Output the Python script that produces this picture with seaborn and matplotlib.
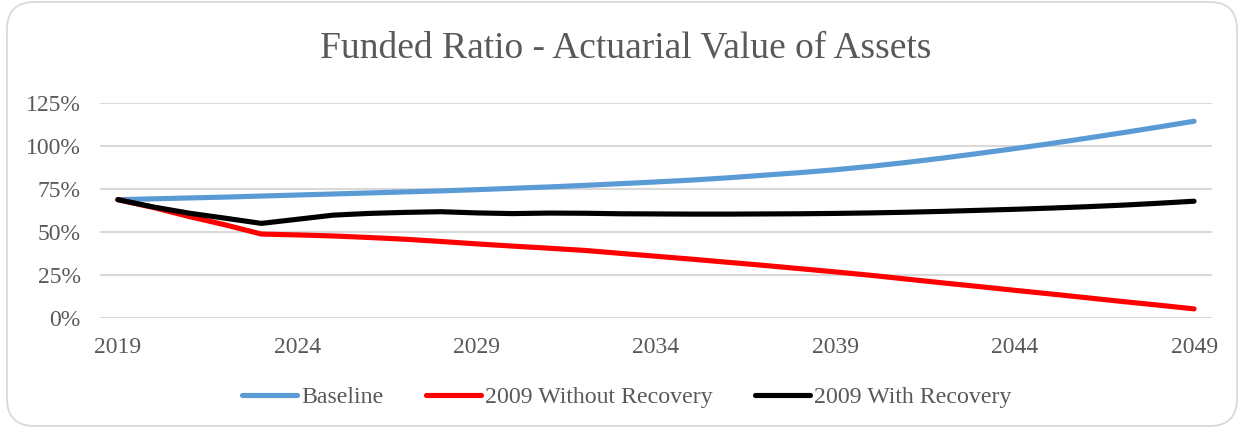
import numpy as np
import pandas as pd
import seaborn as sns
import matplotlib.pyplot as plt
from matplotlib.patches import FancyBboxPatch

# values (funded ratio, %)
years = list(range(2019, 2050))

baseline = [68.8, 69.3, 69.8, 70.3, 70.9, 71.5, 72.1, 72.7, 73.3, 73.9,
            74.6, 75.4, 76.2, 77.1, 78.1, 79.1, 80.2, 81.5, 83.0, 84.5,
            86.2, 88.2, 90.5, 93.0, 95.7, 98.5, 101.4, 104.5, 107.7, 111.0,
            114.4]

without_recovery = [68.8, 64.2, 58.9, 54.1, 48.8, 48.3, 47.7, 46.8, 45.8, 44.5,
                    43.1, 41.8, 40.6, 39.3, 37.6, 35.9, 34.2, 32.4, 30.6, 28.7,
                    26.8, 24.8, 22.6, 20.4, 18.3, 16.1, 14.0, 11.8, 9.6, 7.5,
                    5.3]

with_recovery = [68.8, 64.5, 60.9, 58.0, 55.0, 57.4, 59.8, 60.8, 61.4, 61.8,
                 61.1, 60.7, 61.0, 60.9, 60.6, 60.5, 60.4, 60.4, 60.5, 60.6,
                 60.8, 61.1, 61.5, 62.0, 62.6, 63.2, 63.9, 64.7, 65.6, 66.7,
                 67.9]

series_names = ["Baseline", "2009 Without Recovery", "2009 With Recovery"]
colors = ["#5B9BD5", "#FF0000", "#000000"]
xtick_years = [2019, 2024, 2029, 2034, 2039, 2044, 2049]
ytick_vals = [0, 25, 50, 75, 100, 125]

df = pd.DataFrame({
    "Year": years * 3,
    "Ratio": baseline + without_recovery + with_recovery,
    "Scenario": np.repeat(series_names, len(years)),
})

sns.set_theme(style="white")
plt.rcParams["font.family"] = ["Liberation Serif", "DejaVu Serif"]
text_grey = "#595959"

fig = plt.figure(figsize=(12.44, 4.32), dpi=100)
fig.patch.set_facecolor("white")

# rounded chart border
border = FancyBboxPatch((7 / 1244, 6 / 432), 1230 / 1244, 424 / 432,
                        boxstyle="round,pad=0,rounding_size=0.022",
                        transform=fig.transFigure, facecolor="none",
                        edgecolor="#d9d9d9", linewidth=1.3, mutation_aspect=1244 / 432)
fig.patches.append(border)

ax = fig.add_axes([100 / 1244, 1 - 318 / 432, 1112 / 1244, 215 / 432])

sns.lineplot(data=df, x="Year", y="Ratio", hue="Scenario",
             hue_order=series_names, palette=colors, linewidth=3.7,
             solid_capstyle="round", solid_joinstyle="round",
             legend=False, ax=ax)

ax.set_xlim(2018.5, 2049.5)
ax.set_ylim(0, 125)
ax.set_xticks(xtick_years)
ax.set_xticklabels([str(y) for y in xtick_years])
ax.set_yticks(ytick_vals)
ax.set_yticklabels([f"{v}%" for v in ytick_vals])
ax.set_xlabel("")
ax.set_ylabel("")

ax.grid(axis="y", color="#d9d9d9", linewidth=1.5)
ax.grid(axis="x", visible=False)
ax.set_axisbelow(True)
for s in ax.spines.values():
    s.set_visible(False)
ax.tick_params(axis="y", length=0, pad=14, labelsize=17, labelcolor=text_grey)
ax.tick_params(axis="x", length=0, pad=14, labelsize=17, labelcolor=text_grey)

fig.text(0.503, 1 - 48 / 432, "Funded Ratio - Actuarial Value of Assets",
         ha="center", va="center", fontsize=27, color=text_grey)

handles = [plt.Line2D([], [], color=c, linewidth=3.7, solid_capstyle="round")
           for c in colors]
leg = fig.legend(handles, series_names, loc="center", ncol=3,
                 bbox_to_anchor=(0.504, 1 - 397 / 432), frameon=False,
                 fontsize=17.2, handlelength=2.3, handletextpad=0.15,
                 columnspacing=1.8)
for t in leg.get_texts():
    t.set_color(text_grey)

fig.savefig("out.png", dpi=100, facecolor="white")
